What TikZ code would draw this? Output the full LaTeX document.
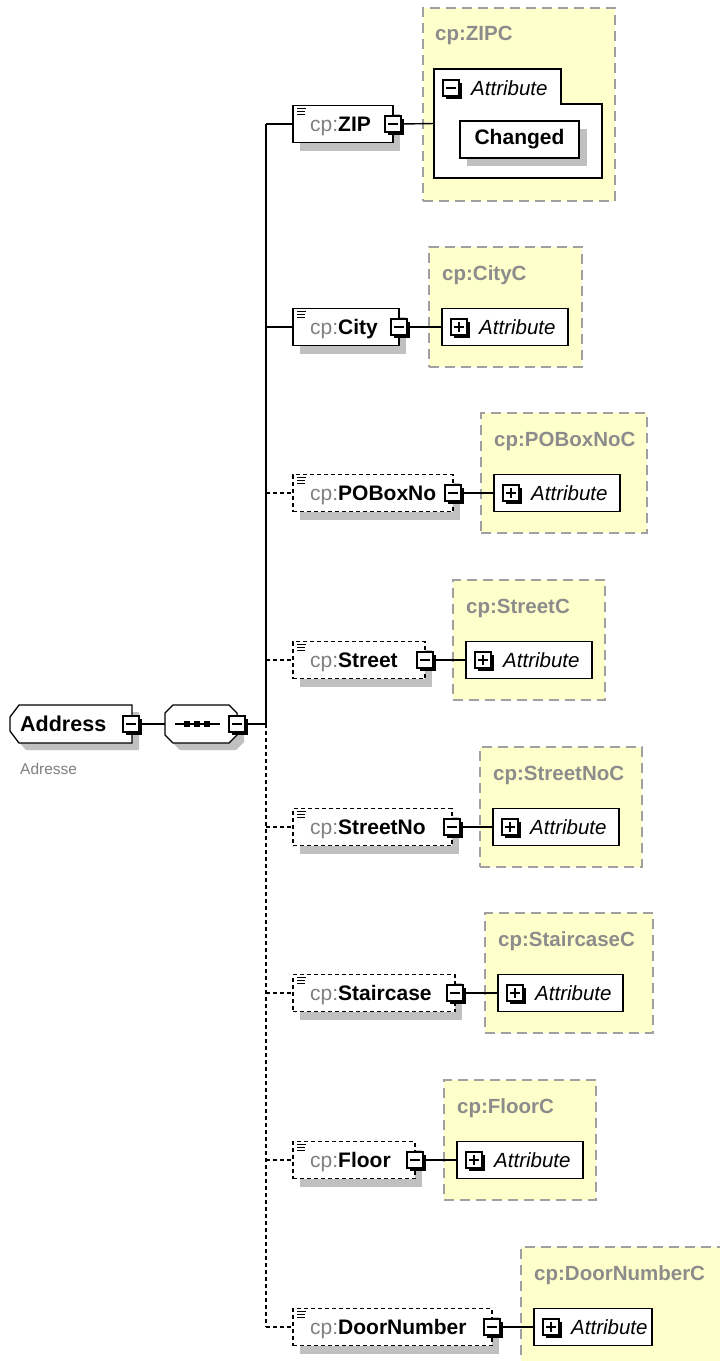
\documentclass[tikz,border=0pt]{standalone}
\usepackage{fontspec}
\setmainfont{Liberation Sans}
\definecolor{yel}{HTML}{FFFFCC}
\definecolor{cborder}{HTML}{A0A0A0}
\definecolor{ctitle}{HTML}{8C8C8C}
\definecolor{pref}{HTML}{808080}
\definecolor{shad}{HTML}{C0C0C0}
\tikzset{
  elembox/.style={draw=black, line width=1.3pt, fill=white, minimum height=37pt, inner sep=0pt, outer sep=0pt},
  optbox/.style={elembox, dash pattern=on 4pt off 3pt},
  iconbox/.style={draw=black, line width=1.4pt, fill=white, minimum size=16pt, inner sep=0pt, outer sep=0pt},
  contbox/.style={draw=cborder, line width=1.6pt, fill=yel, dash pattern=on 10pt off 6pt, inner sep=0pt, outer sep=0pt},
  attrbox/.style={draw=black, line width=1.3pt, fill=white, minimum height=37pt, inner sep=0pt, outer sep=0pt},
  conn/.style={draw=black, line width=1.4pt},
  optconn/.style={conn, dash pattern=on 4pt off 3pt},
  lbl/.style={font=\fontsize{21}{24}\selectfont, inner sep=0pt, anchor=base west},
  ttl/.style={font=\fontsize{20.5}{24}\selectfont\bfseries, text=ctitle, inner sep=0pt, anchor=base west},
  att/.style={font=\fontsize{20.5}{24}\selectfont\itshape, inner sep=0pt, anchor=base west},
  hold/.style={inner sep=0pt, outer sep=0pt},
}
\newcommand\minusicon[3]{%
  \fill[black] (#2-5,#3-5) rectangle (#2+11,#3+11);
  \node[iconbox] (#1) at (#2,#3) {};
  \draw[line width=1.4pt] (#2-5,#3) -- (#2+5,#3);}
\newcommand\plusicon[3]{%
  \fill[black] (#2-5,#3-5) rectangle (#2+11,#3+11);
  \node[iconbox] (#1) at (#2,#3) {};
  \draw[line width=1.4pt] (#2-5,#3) -- (#2+5,#3) (#2,#3-5) -- (#2,#3+5);}
% element row: name, yc, box right, label, box style, connector style
\newcommand\elemrow[6]{%
  \fill[shad] (300,#2-10.5) rectangle (#3+7,#2+26.5);
  \node[#5, minimum width=#3-293, anchor=west] (#1) at (293,#2) {};
  \draw[line width=1pt] (297,#2-15.5) -- +(9,0) (297,#2-12.5) -- +(8,0) (297,#2-9.5) -- +(8,0);
  \node[lbl] (#1l) at (310,#2+7) {\textcolor{pref}{cp:}\textbf{#4}};
  \minusicon{#1m}{#3}{#2}
  \coordinate (#1s) at (266,#2);
  \draw[#6] (#1s) -- (#1.west);}
% container row: name, yc, cont left, cont right, attr left, attr right, title
\newcommand\controw[7]{%
  \node[contbox, minimum width=#4-#3, minimum height=120, anchor=north west] (#1c) at (#3,#2-80) {};
  \node[ttl] (#1t) at (#5,#2-47) {cp:#7};
  \node[attrbox, minimum width=#6-#5, anchor=west] (#1a) at (#5,#2) {};
  \plusicon{#1p}{#5+17}{#2}
  \node[att] (#1x) at (#5+37,#2+7) {Attribute};
  \draw[conn] (#1m.east) -- (#1a.west);}
\begin{document}
\begin{tikzpicture}[x=1pt,y=-1pt]
\useasboundingbox (0,0) rectangle (720,1361);
\fill[white] (0,0) rectangle (720,1361);
% Address
\node[hold, minimum width=122, minimum height=38] (addr) at (71,724) {};
\fill[shad] (26,712) -- (139,712) -- (139,750) -- (26,750) -- (17,740) -- (17,726) -- cycle;
\draw[line width=1.3pt, fill=white] (19,705) -- (addr.north east) -- (addr.south east) -- (19,743) -- (10,731) -- (10,717) -- cycle;
\node[font=\fontsize{21.5}{24}\selectfont\bfseries, inner sep=0pt, anchor=base west] (addrl) at (20,731.5) {Address};
\node[font=\fontsize{15.5}{18}\selectfont, text=pref, inner sep=0pt, anchor=base west] (addrd) at (20,774) {Adresse};
\minusicon{addrm}{131}{724}
% Sequence
\node[hold, minimum width=72, minimum height=38] (seq) at (201,724) {};
\fill[shad] (180,712) -- (236,712) -- (244,720) -- (244,742) -- (236,750) -- (180,750) -- (172,742) -- (172,720) -- cycle;
\draw[line width=1.3pt, fill=white] (173,705) -- (229,705) -- (237,713) -- (237,735) -- (229,743) -- (173,743) -- (165,735) -- (165,713) -- cycle;
\draw[line width=1.3pt] (175,724) -- (220,724);
\foreach \q in {187,197,207} \fill[black] (\q-2.8,721.2) rectangle (\q+2.8,726.8);
\minusicon{seqm}{237}{724}
\coordinate (seqs) at (266,724);
\draw[conn] (addrm.east) -- (seq.west);
\draw[conn] (seqm.east) -- (seqs);
% element rows
\elemrow{zip}{124}{393}{ZIP}{elembox}{conn}
\elemrow{city}{327}{399}{City}{elembox}{conn}
\elemrow{pob}{493}{453}{POBoxNo}{optbox}{optconn}
\elemrow{str}{660}{425}{Street}{optbox}{optconn}
\elemrow{stn}{827}{452}{StreetNo}{optbox}{optconn}
\elemrow{stc}{993}{455}{Staircase}{optbox}{optconn}
\elemrow{flo}{1160}{415}{Floor}{optbox}{optconn}
\elemrow{door}{1327}{492}{DoorNumber}{optbox}{optconn}
% spine
\draw[conn] (zips) -- (seqs);
\draw[optconn] (seqs) -- (doors);
% ZIP container
\node[contbox, minimum width=192, minimum height=193, anchor=north west] (zipc) at (423,8) {};
\node[ttl] (zipt) at (435,40) {cp:ZIPC};
\node[hold, minimum width=168, minimum height=109, anchor=north west] (zipa) at (434,69) {};
\draw[line width=1.3pt, fill=white] (zipa.north west) -- (561,69) -- (561,104) -- (602,104) -- (zipa.south east) -- (zipa.south west) -- cycle;
\minusicon{zipam}{451}{88}
\node[att] (zipx) at (471,95) {Attribute};
\fill[shad] (467,129) rectangle (587,166);
\node[attrbox, minimum width=119, anchor=north west, font=\fontsize{21}{24}\selectfont\bfseries] (chg) at (460,121) {Changed};
\draw[conn] (zipm.east) -- (zipa.west);
% other containers
\controw{city}{327}{429}{582}{442}{568}{CityC}
\controw{pob}{493}{481}{647}{494}{620}{POBoxNoC}
\controw{str}{660}{453}{605}{466}{592}{StreetC}
\controw{stn}{827}{480}{642}{493}{619}{StreetNoC}
\controw{stc}{993}{485}{653}{498}{623}{StaircaseC}
\controw{flo}{1160}{444}{596}{457}{583}{FloorC}
\controw{door}{1327}{521}{740}{534}{652}{DoorNumberC}
\end{tikzpicture}
\end{document}
